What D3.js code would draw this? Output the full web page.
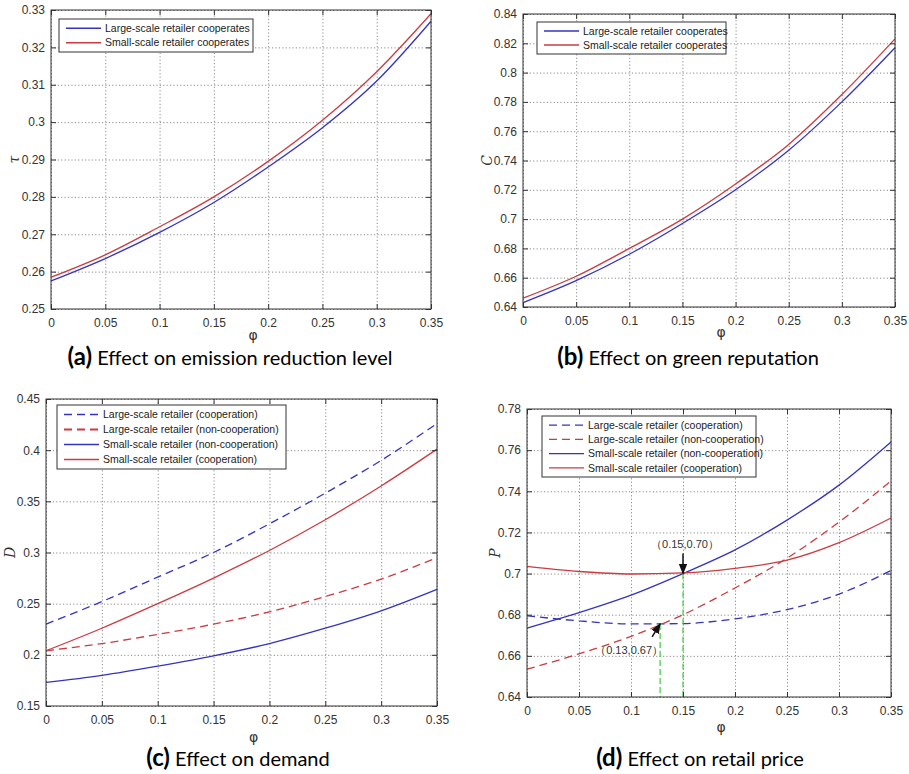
<!DOCTYPE html>
<html>
<head>
<meta charset="utf-8">
<script src="https://cdn.jsdelivr.net/npm/d3@7/dist/d3.min.js"></script>
<style>
body { margin:0; background:#fff; }
.tick text { font-family:"Liberation Sans", Arial, sans-serif; font-size:12px; fill:#333; }
.grid line { stroke:#8c8c8c; stroke-dasharray:1.2,2.2; }
.grid path { display:none; }
.legend text { font-family:"Liberation Sans", Arial, sans-serif; font-size:10.5px; fill:#222; }
.caption { font-family:Lato, "Open Sans", sans-serif; fill:#000; }
</style>
</head>
<body>
<svg id="chart"></svg>
<script>
// shared x values (phi)
var phi = [0, 0.05, 0.1, 0.15, 0.2, 0.25, 0.3, 0.35];
var xTickLabels = ["0","0.05","0.1","0.15","0.2","0.25","0.3","0.35"];

// (a) emission reduction level tau
var tauLarge = [0.2575, 0.2635, 0.2705, 0.2785, 0.2880, 0.2985, 0.3110, 0.3270];
var tauSmall = [0.2585, 0.2645, 0.2720, 0.2800, 0.2895, 0.3005, 0.3135, 0.3290];
var tauTicks = [0.25,0.26,0.27,0.28,0.29,0.3,0.31,0.32,0.33];

// (b) green reputation C
var repLarge = [0.643, 0.658, 0.676, 0.697, 0.720, 0.747, 0.780, 0.817];
var repSmall = [0.646, 0.661, 0.680, 0.700, 0.724, 0.751, 0.785, 0.823];
var repTicks = [0.64,0.66,0.68,0.7,0.72,0.74,0.76,0.78,0.8,0.82,0.84];

// (c) demand D
var demLargeCoop    = [0.230, 0.252, 0.276, 0.300, 0.328, 0.358, 0.390, 0.426];
var demLargeNonCoop = [0.204, 0.211, 0.220, 0.230, 0.242, 0.257, 0.274, 0.295];
var demSmallNonCoop = [0.173, 0.180, 0.189, 0.199, 0.211, 0.226, 0.243, 0.264];
var demSmallCoop    = [0.204, 0.226, 0.250, 0.275, 0.302, 0.332, 0.365, 0.401];
var demTicks = [0.15,0.2,0.25,0.3,0.35,0.4,0.45];

// (d) retail price P
var priLargeCoop    = [0.6795, 0.6770, 0.6755, 0.6757, 0.6780, 0.6825, 0.6900, 0.7015];
var priLargeNonCoop = [0.6535, 0.6610, 0.6695, 0.6800, 0.6930, 0.7075, 0.7250, 0.7450];
var priSmallNonCoop = [0.6735, 0.6810, 0.6895, 0.7000, 0.7115, 0.7260, 0.7430, 0.7640];
var priSmallCoop    = [0.7035, 0.7010, 0.6998, 0.7003, 0.7025, 0.7065, 0.7150, 0.7270];
var priTicks = [0.64,0.66,0.68,0.7,0.72,0.74,0.76,0.78];

// marked equilibrium points in (d)
var markPoints = [{x:0.15, y:0.70, label:"（0.15,0.70）"},
                  {x:0.128, y:0.6755, label:"（0.13,0.67）"}];

var blue = "#3434c0";
var red = "#cc3b40";

var panels = [
  {box:{left:51,right:431,top:10,bottom:309}, yDomain:[0.25,0.33], yTicks:tauTicks, yLabel:"τ", yLabelX:14,
   series:[{name:"Large-scale retailer cooperates", values:tauLarge, color:blue, dash:null},
           {name:"Small-scale retailer cooperates", values:tauSmall, color:red, dash:null}],
   legend:{x:59,y:19,w:194,h:33}, xLabelY:340,
   caption:{x:230,y:365,letter:"(a)",text:"Effect on emission reduction level"}},
  {box:{left:523,right:895,top:14,bottom:307}, yDomain:[0.64,0.84], yTicks:repTicks, yLabel:"C", yLabelX:487,
   series:[{name:"Large-scale retailer cooperates", values:repLarge, color:blue, dash:null},
           {name:"Small-scale retailer cooperates", values:repSmall, color:red, dash:null}],
   legend:{x:537,y:22,w:189,h:32}, xLabelY:337,
   caption:{x:688,y:365,letter:"(b)",text:"Effect on green reputation"}},
  {box:{left:46,right:437,top:399,bottom:706}, yDomain:[0.15,0.45], yTicks:demTicks, yLabel:"D", yLabelX:10,
   series:[{name:"Large-scale retailer (cooperation)", values:demLargeCoop, color:blue, dash:"8,5"},
           {name:"Large-scale retailer (non-cooperation)", values:demLargeNonCoop, color:red, dash:"8,5", legendWidth:2.2},
           {name:"Small-scale retailer (non-cooperation)", values:demSmallNonCoop, color:blue, dash:null},
           {name:"Small-scale retailer (cooperation)", values:demSmallCoop, color:red, dash:null}],
   legend:{x:57,y:405,w:229,h:64}, xLabelY:742,
   caption:{x:238,y:766,letter:"(c)",text:"Effect on demand"}},
  {box:{left:527,right:891,top:409,bottom:697}, yDomain:[0.64,0.78], yTicks:priTicks, yLabel:"P", yLabelX:495,
   series:[{name:"Large-scale retailer (cooperation)", values:priLargeCoop, color:blue, dash:"8,5"},
           {name:"Large-scale retailer (non-cooperation)", values:priLargeNonCoop, color:red, dash:"8,5"},
           {name:"Small-scale retailer (non-cooperation)", values:priSmallNonCoop, color:blue, dash:null},
           {name:"Small-scale retailer (cooperation)", values:priSmallCoop, color:red, dash:null}],
   legend:{x:542,y:416,w:214,h:61}, xLabelY:732, marks:markPoints,
   caption:{x:700,y:766,letter:"(d)",text:"Effect on retail price"}}
];

var svg = d3.select("#chart").attr("width",909).attr("height",774);

svg.append("defs").append("marker")
    .attr("id","arrow")
    .attr("viewBox","0 0 10 10")
    .attr("refX",9).attr("refY",5)
    .attr("markerWidth",7).attr("markerHeight",7)
    .attr("orient","auto")
    .append("path")
    .attr("d","M0,1 L10,5 L0,9 Z")
    .attr("fill","#111");

var drawPanel = function(p)
{
    var w = p.box.right - p.box.left;
    var h = p.box.bottom - p.box.top;
    var xScale = d3.scaleLinear().domain([0,0.35]).range([0,w]);
    var yScale = d3.scaleLinear().domain(p.yDomain).range([h,0]);

    var g = svg.append("g")
        .attr("transform","translate("+p.box.left+","+p.box.top+")");

    // grid
    g.append("g").classed("grid",true)
        .attr("transform","translate(0,"+h+")")
        .call(d3.axisBottom(xScale).tickValues(phi).tickSize(-h).tickFormat(""));
    g.append("g").classed("grid",true)
        .call(d3.axisLeft(yScale).tickValues(p.yTicks).tickSize(-w).tickFormat(""));

    // lines
    var lineGenerator = d3.line()
        .x(function(d,i){ return xScale(phi[i]); })
        .y(function(d){ return yScale(d); })
        .curve(d3.curveMonotoneX);

    p.series.forEach(function(s)
    {
        g.append("path")
            .datum(s.values)
            .attr("d",lineGenerator)
            .attr("fill","none")
            .attr("stroke",s.color)
            .attr("stroke-width",1.3)
            .attr("stroke-dasharray",s.dash);
    });

    // marked points
    if (p.marks)
    {
        p.marks.forEach(function(m,i)
        {
            var px = xScale(m.x), py = yScale(m.y);
            g.append("line")
                .attr("x1",px).attr("x2",px)
                .attr("y1",py).attr("y2",h)
                .attr("stroke","#3dcc3d").attr("stroke-width",1.2)
                .attr("stroke-dasharray","6,3");
            var tail = i==0 ? [px, py-20] : [px-8, py+13];
            var txt = i==0 ? [px+2, py-26] : [px-31, py+30];
            g.append("line")
                .attr("x1",tail[0]).attr("y1",tail[1])
                .attr("x2",px).attr("y2",py)
                .attr("stroke","#111").attr("stroke-width",1.5)
                .attr("marker-end","url(#arrow)");
            g.append("text")
                .attr("x",txt[0]).attr("y",txt[1])
                .attr("text-anchor","middle")
                .style("font-family","'Liberation Sans', Arial, sans-serif")
                .style("font-size","11px")
                .style("fill","#333")
                .text(m.label);
        });
    }

    // axes with inward ticks
    g.append("g")
        .attr("transform","translate(0,"+h+")")
        .call(d3.axisBottom(xScale).tickValues(phi).tickSizeInner(-5).tickSizeOuter(0).tickPadding(9)
              .tickFormat(function(d,i){ return xTickLabels[i]; }));
    g.append("g")
        .call(d3.axisTop(xScale).tickValues(phi).tickSizeInner(-5).tickSizeOuter(0).tickFormat(""));
    g.append("g")
        .call(d3.axisLeft(yScale).tickValues(p.yTicks).tickSizeInner(-5).tickSizeOuter(0).tickPadding(6)
              .tickFormat(d3.format("~g")));
    g.append("g")
        .attr("transform","translate("+w+",0)")
        .call(d3.axisRight(yScale).tickValues(p.yTicks).tickSizeInner(-5).tickSizeOuter(0).tickFormat(""));
    g.selectAll(".domain").remove();
    g.selectAll(".tick line").filter(function(){ return !this.parentNode.parentNode.classList.contains("grid"); })
        .attr("stroke","#333");

    g.append("rect")
        .attr("width",w).attr("height",h)
        .attr("fill","none").attr("stroke","#333").attr("stroke-width",1);

    // legend
    var lg = svg.append("g").classed("legend",true)
        .attr("transform","translate("+p.legend.x+","+p.legend.y+")");
    lg.append("rect")
        .attr("width",p.legend.w).attr("height",p.legend.h)
        .attr("fill","#fff").attr("stroke","#333").attr("stroke-width",1);
    var rowH = (p.legend.h-4)/p.series.length;
    p.series.forEach(function(s,i)
    {
        var y = 2 + rowH*(i+0.5);
        lg.append("line")
            .attr("x1",7).attr("x2",42)
            .attr("y1",y).attr("y2",y)
            .attr("stroke",s.color)
            .attr("stroke-width",s.legendWidth || 1.3)
            .attr("stroke-dasharray",s.dash);
        lg.append("text")
            .attr("x",46).attr("y",y)
            .attr("dy","0.35em")
            .text(s.name);
    });

    // axis labels
    svg.append("text")
        .attr("x",p.box.left + w/2 + 12).attr("y",p.xLabelY)
        .attr("text-anchor","middle")
        .style("font-family","'DejaVu Sans', sans-serif")
        .style("font-size","14px")
        .style("fill","#333")
        .text("φ");
    svg.append("text")
        .attr("transform","translate("+p.yLabelX+","+(p.box.top+h/2)+") rotate(-90)")
        .attr("text-anchor","middle")
        .attr("dy","0.35em")
        .style("font-family","'DejaVu Serif', serif")
        .style("font-style","italic")
        .style("font-size","14px")
        .style("fill","#333")
        .text(p.yLabel);

    // caption
    var cap = svg.append("text").classed("caption",true)
        .attr("x",p.caption.x).attr("y",p.caption.y)
        .attr("text-anchor","middle");
    cap.append("tspan").style("font-weight","bold").style("font-size","24px").text(p.caption.letter);
    cap.append("tspan").style("font-size","20px").text(" " + p.caption.text);
}

panels.forEach(drawPanel);
</script>
</body>
</html>
